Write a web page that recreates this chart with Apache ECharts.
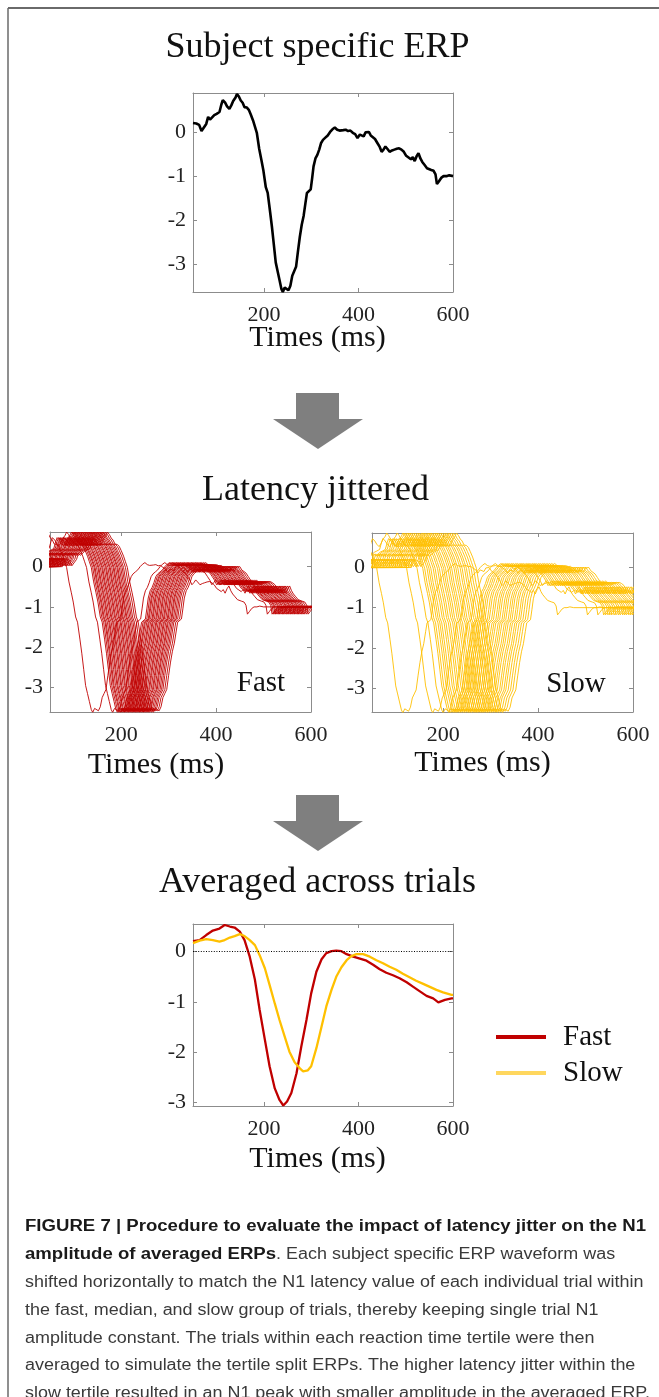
<!DOCTYPE html>
<html><head><meta charset="utf-8">
<script src="https://cdn.jsdelivr.net/npm/echarts@6/dist/echarts.min.js"></script>
<style>html,body{margin:0;padding:0;background:#fff}#c{width:659px;height:1397px}</style>
</head><body><div id="c"></div><script>
// ---------- DATA ----------
// Subject specific ERP (ms, µV)
const erpT = [50,57,63,68,72,78,82,86,90,95,100,106,110,113,118,122,127,131,135,140,143,147,151,155,159,164,168,172,177,181,185,190,195,199,204,208,213,217,221,225,229,233,237,240,244,248,252,256,260,264,268,272,276,280,284,288,291,295,299,302,305,309,313,317,321,325,330,335,340,345,350,355,360,364,368,373,378,383,388,393,398,403,407,411,415,419,422,426,430,435,440,445,449,453,457,461,466,471,476,481,486,491,496,501,506,511,515,519,523,527,531,535,540,545,549,554,559,563,566,570,575,580,586,592,600];
const erpV = [0.20,0.19,0.16,0.02,0.03,0.18,0.34,0.28,0.30,0.38,0.41,0.45,0.62,0.72,0.66,0.58,0.52,0.60,0.70,0.78,0.86,0.80,0.71,0.66,0.56,0.55,0.50,0.40,0.26,0.12,-0.02,-0.38,-0.65,-0.88,-1.25,-1.38,-1.80,-2.15,-2.55,-2.95,-3.15,-3.35,-3.55,-3.62,-3.52,-3.50,-3.58,-3.48,-3.25,-3.15,-3.05,-2.70,-2.37,-2.10,-1.90,-1.60,-1.38,-1.35,-1.30,-1.05,-0.78,-0.60,-0.52,-0.40,-0.25,-0.18,-0.13,-0.08,0.00,0.06,0.10,0.05,0.03,0.07,0.04,0.05,0.02,0.03,-0.02,-0.05,-0.14,-0.06,-0.03,-0.10,-0.01,-0.04,0.00,-0.08,-0.12,-0.16,-0.25,-0.34,-0.45,-0.40,-0.33,-0.38,-0.45,-0.42,-0.40,-0.38,-0.37,-0.40,-0.45,-0.54,-0.58,-0.62,-0.57,-0.66,-0.55,-0.48,-0.60,-0.68,-0.75,-0.82,-0.80,-0.86,-0.88,-0.96,-1.18,-1.12,-1.04,-1.00,-1.00,-0.98,-1.00];
// Per-trial N1 latency shifts (ms) of the ERP, fast and slow tertiles
const fastShifts = [-100,-58,-48,-45,-42,-40,-37,-34,-32,-29,-26,-24,-21,-18,-16,-13,-10,-8,-5,-2,0,3,6,8,11,14,17,20,24,28];
const slowShifts = [-125,-62,-40,-28,-24,-19,-15,-11,-6,-2,3,7,12,16,20,25,29,33,38,42,46,51,55,60,64,69,74,79,85];
const padBefore = 0;      // value before the displayed window
const padAfter = -1.0;    // value after the displayed window
// Averaged across trials
const fastT = [50,64,78,92,106,117,128,138,149,159,170,181,191,202,212,223,233,241,249,258,269,279,290,300,311,322,332,343,353,364,375,389,403,417,431,445,459,473,487,502,516,530,544,558,569,583,597,600];
const fastV = [0.21,0.23,0.33,0.42,0.46,0.53,0.50,0.48,0.40,0.23,-0.10,-0.56,-1.16,-1.75,-2.28,-2.72,-2.95,-3.06,-2.98,-2.81,-2.42,-1.89,-1.36,-0.83,-0.40,-0.15,-0.03,0.01,0.02,0.01,-0.05,-0.10,-0.14,-0.18,-0.26,-0.35,-0.42,-0.47,-0.53,-0.61,-0.70,-0.79,-0.88,-0.93,-1.01,-0.96,-0.93,-0.93];
const slowT = [50,64,78,92,106,117,128,138,149,159,170,181,191,202,212,223,233,244,254,265,276,283,293,300,311,322,332,343,353,364,375,385,396,410,424,438,452,466,480,494,508,522,537,551,565,579,597,600];
const slowV = [0.17,0.22,0.25,0.23,0.20,0.23,0.28,0.31,0.35,0.31,0.23,0.13,-0.07,-0.33,-0.66,-1.03,-1.36,-1.69,-1.99,-2.20,-2.32,-2.38,-2.36,-2.28,-1.92,-1.49,-1.09,-0.76,-0.50,-0.31,-0.17,-0.09,-0.05,-0.05,-0.10,-0.17,-0.23,-0.30,-0.36,-0.44,-0.51,-0.58,-0.64,-0.70,-0.76,-0.81,-0.86,-0.86];
const xTicks = [200,400,600];
const yTicks = [0,-1,-2,-3];
const titles = ['Subject specific ERP','Latency jittered','Averaged across trials'];
const xName = 'Times (ms)';
const groupNames = ['Fast','Slow'];
const captionParts = [
  ['FIGURE 7 | Procedure to evaluate the impact of latency jitter on the N1',''],
  ['amplitude of averaged ERPs','. Each subject specific ERP waveform was'],
  ['','shifted horizontally to match the N1 latency value of each individual trial within'],
  ['','the fast, median, and slow group of trials, thereby keeping single trial N1'],
  ['','amplitude constant. The trials within each reaction time tertile were then'],
  ['','averaged to simulate the tertile split ERPs. The higher latency jitter within the'],
  ['','slow tertile resulted in an N1 peak with smaller amplitude in the averaged ERP.']
];

// ---------- LAYOUT / STYLE ----------
const SERIF = '"Liberation Serif","Times New Roman",serif';
const SANS = '"Liberation Sans",Arial,Helvetica,sans-serif';
const RED = '#C00000', YEL = '#FFC000', BOX = '#8c8c8c';
const grids = [
  {left:193, top:93,  width:260, height:199, ymin:-3.62, ymax:0.88, namePad:11, nameGap:31},
  {left:50,  top:532, width:261, height:180, ymin:-3.61, ymax:0.86, namePad:49, nameGap:38},
  {left:372, top:533, width:261, height:179, ymin:-3.60, ymax:0.86, namePad:40, nameGap:36},
  {left:193, top:924, width:260, height:182, ymin:-3.07, ymax:0.55, namePad:11, nameGap:38}
];

const xAxis = [], yAxis = [], gridOpt = [];
grids.forEach((g, i) => {
  gridOpt.push({left:g.left, top:g.top, width:g.width, height:g.height, containLabel:false, outerBoundsMode:'none'});
  const line = {show:true, onZero:false, lineStyle:{color:BOX, width:1}};
  xAxis.push({type:'value', gridIndex:i, position:'bottom', min:50, max:600,
    axisLine:line, splitLine:{show:false},
    axisTick:{show:true, inside:true, length:4, customValues:xTicks, lineStyle:{color:BOX}},
    axisLabel:{customValues:xTicks, margin:12, fontSize:22, fontFamily:SERIF, color:'#222'},
    name:xName, nameLocation:'middle', nameGap:g.nameGap, nameMoveOverlap:false,
    nameTextStyle:{fontSize:30, fontFamily:SERIF, color:'#111', padding:[0,g.namePad,0,0]}});
  xAxis.push({type:'value', gridIndex:i, position:'top', min:50, max:600,
    axisLine:line, splitLine:{show:false},
    axisTick:{show:true, inside:true, length:4, customValues:xTicks, lineStyle:{color:BOX}},
    axisLabel:{show:false}});
  yAxis.push({type:'value', gridIndex:i, position:'left', min:g.ymin, max:g.ymax,
    axisLine:line, splitLine:{show:false},
    axisTick:{show:true, inside:true, length:4, customValues:yTicks, lineStyle:{color:BOX}},
    axisLabel:{customValues:yTicks, margin:7, fontSize:22, fontFamily:SERIF, color:'#222'}});
  yAxis.push({type:'value', gridIndex:i, position:'right', min:g.ymin, max:g.ymax,
    axisLine:line, splitLine:{show:false},
    axisTick:{show:true, inside:true, length:4, customValues:yTicks, lineStyle:{color:BOX}},
    axisLabel:{show:false}});
});

const zip = (t, v) => t.map((x, k) => [x, v[k]]);
function shifted(s) {
  const pts = [[-2000, padBefore], [erpT[0] + s - 2, padBefore]];
  erpT.forEach((t, k) => pts.push([t + s, erpV[k]]));
  pts.push([2000, padAfter]);
  return pts;
}
const series = [];
series.push({type:'line', name:'ERP', xAxisIndex:0, yAxisIndex:0, data:zip(erpT, erpV),
  showSymbol:false, symbol:'none', lineStyle:{color:'#000', width:2.6}, itemStyle:{color:'#000'}, silent:true});
fastShifts.forEach((s, k) => series.push({type:'line', name:'Fast trial ' + (k+1), xAxisIndex:2, yAxisIndex:2,
  data:shifted(s), symbol:'none', lineStyle:{color:RED, width:0.9}, itemStyle:{color:RED}, silent:true}));
slowShifts.forEach((s, k) => series.push({type:'line', name:'Slow trial ' + (k+1), xAxisIndex:4, yAxisIndex:4,
  data:shifted(s), symbol:'none', lineStyle:{color:YEL, width:0.9}, itemStyle:{color:YEL}, silent:true}));
series.push({type:'line', name:'Fast', xAxisIndex:6, yAxisIndex:6, data:zip(fastT, fastV), symbol:'none',
  lineStyle:{color:RED, width:2.3}, itemStyle:{color:RED}, silent:true,
  markLine:{silent:true, symbol:'none', label:{show:false}, lineStyle:{type:[1,1.6], color:'#000', width:1}, data:[{yAxis:0}]}});
series.push({type:'line', name:'Slow', xAxisIndex:6, yAxisIndex:6, data:zip(slowT, slowV), symbol:'none',
  lineStyle:{color:YEL, width:2.3}, itemStyle:{color:YEL}, silent:true});

// caption measurement: bold and regular parts each get one common horizontal condensation
const ctx = document.createElement('canvas').getContext('2d');
function w(txt, bold) { ctx.font = (bold ? 'bold ' : '') + '16px ' + SANS; return ctx.measureText(txt).width; }
const capTargets = [621, 560, 621, 497, 512, 622, 625];
const capY = [1227, 1254.8, 1282.6, 1310.4, 1338.2, 1366, 1393.8];
const capW = captionParts.map(p => w(p[0], true) + w(p[1], false));
const ratios = capW.slice(2).map((m, k) => capTargets[k + 2] / m).sort((a, b) => a - b);
const medRatio = ratios[Math.floor(ratios.length / 2)];
const boldRatio = capTargets[0] / capW[0];

const graphic = [];
// frame
graphic.push({type:'line', shape:{x1:8, y1:8, x2:659, y2:8}, style:{stroke:'#6a6a6a', lineWidth:2}, silent:true});
graphic.push({type:'line', shape:{x1:8, y1:8, x2:8, y2:1397}, style:{stroke:'#6a6a6a', lineWidth:1.5}, silent:true});
// titles
[[317.5,48],[315.5,491],[317.5,883]].forEach((p, k) => graphic.push({type:'text', x:p[0], y:p[1],
  style:{text:titles[k], font:'36px ' + SERIF, fill:'#111', align:'center', verticalAlign:'middle'}, silent:true}));
// arrows
[0, 402].forEach(dy => graphic.push({type:'polygon', silent:true,
  shape:{points:[[296,393+dy],[339,393+dy],[339,419+dy],[363,419+dy],[318,449+dy],[273,419+dy],[296,419+dy]]},
  style:{fill:'#7f7f7f'}}));
// group labels
graphic.push({type:'text', x:261, y:683, style:{text:groupNames[0], font:'29px ' + SERIF, fill:'#111', align:'center', verticalAlign:'middle'}, silent:true});
graphic.push({type:'text', x:576, y:684, style:{text:groupNames[1], font:'29px ' + SERIF, fill:'#111', align:'center', verticalAlign:'middle'}, silent:true});
// caption
const boldStyle = {fontWeight:'bold', fontSize:16, fontFamily:SANS, fill:'#1a1a1a'};
const regStyle = {fontSize:16, fontFamily:SANS, fill:'#3a3a3a'};
captionParts.forEach((p, k) => {
  if (p[0]) {
    graphic.push({type:'text', x:25, y:capY[k], scaleX:boldRatio, silent:true,
      style:Object.assign({text:p[0], align:'left', verticalAlign:'middle'}, boldStyle)});
  }
  if (p[1]) {
    const x0 = 25 + (p[0] ? w(p[0], true) * boldRatio : 0);
    const s = Math.min(medRatio, (650 - x0) / w(p[1], false));
    graphic.push({type:'text', x:x0, y:capY[k], scaleX:s, silent:true,
      style:Object.assign({text:p[1], align:'left', verticalAlign:'middle'}, regStyle)});
  }
});

const chart = echarts.init(document.getElementById('c'), null, {renderer:'canvas'});
chart.setOption({
  animation:false, backgroundColor:'#fff',
  grid:gridOpt, xAxis, yAxis, series, graphic,
  legend:{show:true, orient:'vertical', left:491, top:1017, selectedMode:false,
    itemWidth:50, itemHeight:4, itemGap:6, icon:'rect',
    textStyle:{fontSize:29, lineHeight:30, fontFamily:SERIF, color:'#111', padding:[0,0,0,12]},
    data:[{name:'Fast', itemStyle:{color:RED}}, {name:'Slow', itemStyle:{color:'#FFD75E'}}]}
});
</script></body></html>
